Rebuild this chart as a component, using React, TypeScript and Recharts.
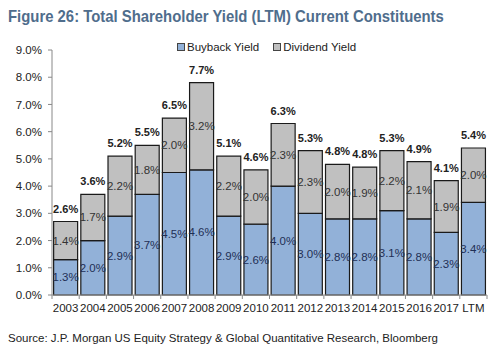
import { BarChart, Bar, XAxis, YAxis, LabelList } from "recharts";

const years = ["2003", "2004", "2005", "2006", "2007", "2008", "2009", "2010", "2011", "2012", "2013", "2014", "2015", "2016", "2017", "LTM"];
const buyback = [1.3, 2.0, 2.9, 3.7, 4.5, 4.6, 2.9, 2.6, 4.0, 3.0, 2.8, 2.8, 3.1, 2.8, 2.3, 3.4];
const dividend = [1.4, 1.7, 2.2, 1.8, 2.0, 3.2, 2.2, 2.0, 2.3, 2.3, 2.0, 1.9, 2.2, 2.1, 1.9, 2.0];
const totals = [2.6, 3.6, 5.2, 5.5, 6.5, 7.7, 5.1, 4.6, 6.3, 5.3, 4.8, 4.8, 5.3, 4.9, 4.1, 5.4];
const yTicks = [0, 1, 2, 3, 4, 5, 6, 7, 8, 9];

const W = 500;
const H = 358;
const Y_AXIS_W = 52;
const margin = { top: 50, right: 13, bottom: 43, left: 0 };
const band = (W - Y_AXIS_W - margin.right) / years.length;

const FONT = "'Liberation Sans', Arial, sans-serif";

const data = years.map((y, i) => ({
  year: y,
  buyback: buyback[i],
  dividend: dividend[i],
  total: totals[i],
}));

const XTick = (props: any) => {
  const { x, y, payload, index } = props;
  return (
    <g>
      <line x1={x - band / 2} x2={x - band / 2} y1={y} y2={y + 4} stroke="#888" />
      {index === years.length - 1 && (
        <line x1={x + band / 2} x2={x + band / 2} y1={y} y2={y + 4} stroke="#888" />
      )}
      <text x={x} y={y + 17} textAnchor="middle" fontSize={11.5} fill="#222" fontFamily={FONT}>
        {payload.value}
      </text>
    </g>
  );
};

const TotalLabel = (props: any) => {
  const { x, y, width, index } = props;
  return (
    <text x={x + width / 2} y={y - 9} textAnchor="middle" fontSize={11} fontWeight="bold" fill="#222" fontFamily={FONT}>
      {totals[index].toFixed(1)}%
    </text>
  );
};

const swatch = (color: string) => (
  <span style={{ width: 6, height: 6, background: color, border: "1px solid #444", marginRight: 2, display: "inline-block" }} />
);

export default function App() {
  return (
    <div style={{ position: "absolute", left: 0, top: 0, width: W, height: H, background: "#fff", overflow: "hidden" }}>
      <div
        style={{
          position: "absolute",
          left: 8,
          top: 7,
          fontFamily: FONT,
          fontSize: 17,
          fontWeight: "bold",
          color: "#4f6d8c",
          whiteSpace: "nowrap",
          transform: "scaleX(0.875)",
          transformOrigin: "left top",
        }}
      >
        Figure 26: Total Shareholder Yield (LTM) Current Constituents
      </div>
      <div style={{ position: "absolute", left: 0, top: 0 }}>
        <BarChart width={W} height={H} data={data} margin={margin} barCategoryGap="6%">
          <YAxis
            domain={[0, 9]}
            ticks={yTicks}
            interval={0}
            tickFormatter={(v: number) => `${v.toFixed(1)}%`}
            tick={{ fontSize: 11.5, fill: "#222", fontFamily: FONT }}
            axisLine={{ stroke: "#888" }}
            tickLine={{ stroke: "#888" }}
            tickSize={4}
            tickMargin={6}
            width={Y_AXIS_W}
          />
          <XAxis
            dataKey="year"
            interval={0}
            tick={<XTick />}
            tickLine={false}
            tickSize={0}
            tickMargin={0}
            height={20}
            axisLine={{ stroke: "#888" }}
          />
          <Bar dataKey="buyback" stackId="a" fill="#92b1d8" stroke="#1a1a1a" strokeWidth={1.2} isAnimationActive={false}>
            <LabelList
              dataKey="buyback"
              position="center"
              formatter={(v: any) => `${Number(v).toFixed(1)}%`}
              style={{ fontSize: 11.5, fill: "#1f2f55", fontFamily: FONT }}
            />
          </Bar>
          <Bar dataKey="dividend" stackId="a" fill="#c0c0c0" stroke="#1a1a1a" strokeWidth={1.2} isAnimationActive={false}>
            <LabelList
              dataKey="dividend"
              position="center"
              formatter={(v: any) => `${Number(v).toFixed(1)}%`}
              style={{ fontSize: 11.5, fill: "#333", fontFamily: FONT }}
            />
            <LabelList dataKey="total" content={<TotalLabel />} />
          </Bar>
        </BarChart>
      </div>
      <div
        style={{
          position: "absolute",
          left: 177,
          top: 41,
          display: "flex",
          fontFamily: FONT,
          fontSize: 11.5,
          color: "#222",
          whiteSpace: "nowrap",
        }}
      >
        <span style={{ display: "flex", alignItems: "center", marginRight: 14 }}>
          {swatch("#92b1d8")}
          Buyback Yield
        </span>
        <span style={{ display: "flex", alignItems: "center" }}>
          {swatch("#c0c0c0")}
          Dividend Yield
        </span>
      </div>
      <div
        style={{
          position: "absolute",
          left: 8,
          top: 332,
          fontFamily: FONT,
          fontSize: 11.5,
          color: "#222",
          whiteSpace: "nowrap",
        }}
      >
        Source: J.P. Morgan US Equity Strategy &amp; Global Quantitative Research, Bloomberg
      </div>
    </div>
  );
}
